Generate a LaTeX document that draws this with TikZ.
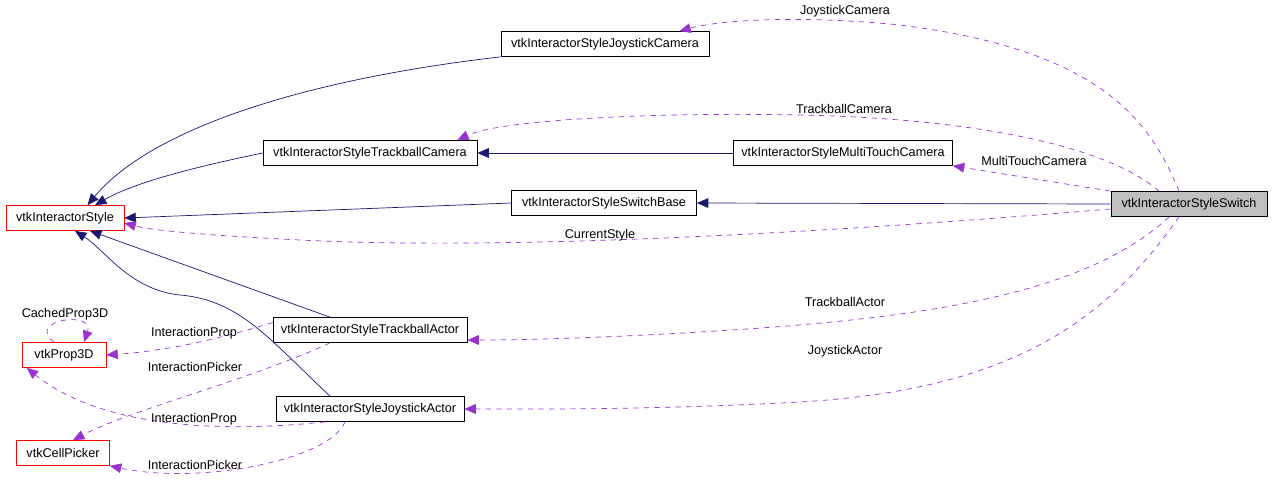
\documentclass[tikz,border=0pt]{standalone}
\usepackage{fontspec}
\setmainfont{Liberation Sans}
\usetikzlibrary{arrows.meta, positioning}
\definecolor{navyline}{HTML}{191970}
\definecolor{useline}{HTML}{9A32CD}

\begin{document}
\begin{tikzpicture}[
    x=0.02cm, y=-0.02cm,
    % class boxes
    cls/.style={rectangle, draw=black, fill=white, minimum height=0.5cm, inner sep=1pt, font=\fontsize{7.2}{9}\selectfont},
    extcls/.style={cls, draw=red},
    mainclass/.style={cls, fill=black!25},
    % connectors
    inherit/.style={draw=navyline, -{Triangle[length=6.5pt,width=5.5pt]}},
    usage/.style={draw=useline, dashed, -{Triangle[length=6.5pt,width=5.5pt]}},
    lbl/.style={font=\fontsize{7.2}{9}\selectfont, inner sep=1pt}
]
    \useasboundingbox (0,0) rectangle (1272,484);

    % Classes
    \node[mainclass, minimum width=3.12cm] (sw) at (1189,204) {vtkInteractorStyleSwitch};
    \node[cls, minimum width=4.16cm] (jc) at (605,44) {vtkInteractorStyleJoystickCamera};
    \node[cls, minimum width=4.28cm] (tc) at (370,153) {vtkInteractorStyleTrackballCamera};
    \node[cls, minimum width=4.38cm] (mtc) at (843,153) {vtkInteractorStyleMultiTouchCamera};
    \node[cls, minimum width=3.70cm] (sb) at (604,203) {vtkInteractorStyleSwitchBase};
    \node[extcls, minimum width=2.36cm] (is) at (65,218) {vtkInteractorStyle};
    \node[cls, minimum width=3.88cm] (ta) at (370,330) {vtkInteractorStyleTrackballActor};
    \node[cls, minimum width=3.76cm] (ja) at (370,409) {vtkInteractorStyleJoystickActor};
    \node[extcls, minimum width=1.68cm] (p3d) at (64,355) {vtkProp3D};
    \node[extcls, minimum width=1.86cm] (cp) at (63,453) {vtkCellPicker};

    % Inheritance
    \draw[inherit] (jc.south west) .. controls (300,80) and (150,130) .. ([xshift=0.45cm]is.north);
    \draw[inherit] (tc.west) .. controls (180,170) and (130,185) .. ([xshift=0.6cm]is.north);
    \draw[inherit] (sb.west) -- (is.east);
    \draw[inherit] ([xshift=-0.8cm]ta.north) -- ([xshift=0.5cm]is.south);
    \draw[inherit] ([xshift=-0.8cm]ja.north) .. controls (270,340) and (240,300) .. (180,295)
        .. controls (130,290) and (105,250) .. ([xshift=0.2cm]is.south);
    \draw[inherit] (mtc.west) -- (tc.east);
    \draw[inherit] (sw.west) -- (sb.east);

    % Usage
    \draw[usage] ([xshift=-0.2cm]sw.north) .. controls (1150,120) and (1100,50) .. (900,25)
        .. controls (800,15) and (720,20) .. ([xshift=-0.6cm]jc.north east);
    \node[lbl] (ljc) at (845,11) {JoystickCamera};
    \draw[usage] ([xshift=-0.6cm]sw.north) .. controls (1100,140) and (950,118) .. (800,115)
        .. controls (650,112) and (500,120) .. ([xshift=-0.4cm]tc.north east);
    \node[lbl] (ltc) at (844,109) {TrackballCamera};
    \draw[usage] (sw.north west) -- (mtc.south east);
    \node[lbl] (lmtc) at (1034,161) {MultiTouchCamera};
    \draw[usage] ([yshift=-0.1cm]sw.west) .. controls (800,235) and (500,250) .. (300,240)
        .. controls (200,235) and (150,230) .. ([yshift=-0.1cm]is.east);
    \node[lbl] (lcs) at (600,235) {CurrentStyle};
    \draw[usage] ([xshift=-0.4cm]sw.south) .. controls (1080,300) and (900,320) .. (700,332)
        .. controls (600,338) and (520,340) .. ([yshift=-0.2cm]ta.east);
    \node[lbl] (lta) at (845,302) {TrackballActor};
    \draw[usage] ([xshift=-0.2cm]sw.south) .. controls (1100,330) and (1000,390) .. (800,402)
        .. controls (650,410) and (540,409) .. (ja.east);
    \node[lbl] (lja) at (845,351) {JoystickActor};

    \draw[usage] ([yshift=0.15cm]ta.west) .. controls (200,345) and (150,352) .. (p3d.east);
    \node[lbl] (lip1) at (194,333) {InteractionProp};
    \draw[usage] ([xshift=-0.8cm]ta.south) .. controls (250,380) and (130,410) .. ([xshift=0.2cm]cp.north);
    \node[lbl] (lipk1) at (195,367) {InteractionPicker};
    \draw[usage] ([xshift=-0.9cm]ja.south) .. controls (250,430) and (110,435) .. ([xshift=0.1cm]p3d.south west);
    \node[lbl] (lip2) at (194,419) {InteractionProp};
    \draw[usage] ([xshift=-0.5cm]ja.south) .. controls (330,460) and (200,485) .. (cp.south east);
    \node[lbl] (lipk2) at (195,465) {InteractionPicker};

    \draw[usage] ([xshift=-0.2cm]p3d.north) .. controls (25,320) and (95,310) .. ([xshift=0.4cm]p3d.north);
    \node[lbl] (lcp3d) at (65,314) {CachedProp3D};
\end{tikzpicture}
\end{document}
